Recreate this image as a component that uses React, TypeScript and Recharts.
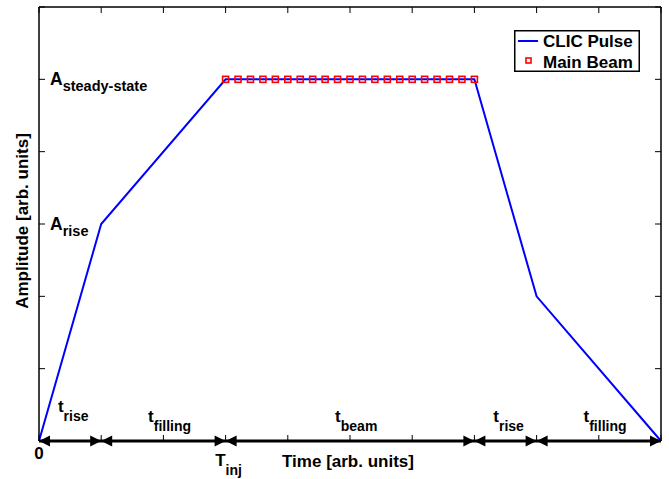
import React from 'react'
import {
  LineChart,
  Line,
  XAxis,
  YAxis,
  CartesianGrid,
  ReferenceDot,
  Legend,
} from 'recharts'

// CLIC pulse shape (time, amplitude)
const pulseTime = [0, 1, 3, 7, 8, 10]
const pulseAmp = [0, 3, 5, 5, 2, 0]

// main beam markers along the flat top
const beamTime = [3, 3.2, 3.4, 3.6, 3.8, 4, 4.2, 4.4, 4.6, 4.8, 5, 5.2, 5.4, 5.6, 5.8, 6, 6.2, 6.4, 6.6, 6.8, 7]
const beamAmp = [5, 5, 5, 5, 5, 5, 5, 5, 5, 5, 5, 5, 5, 5, 5, 5, 5, 5, 5, 5, 5]

const xTicks = [0, 1, 2, 3, 4, 5, 6, 7, 8, 9, 10]
const yTicks = [0, 1, 2, 3, 4, 5, 6]
const xTickLabels: Record<number, [string, string]> = { 0: ['0', ''], 3: ['T', 'inj'] }
const yTickLabels: Record<number, [string, string]> = { 3: ['A', 'rise'], 5: ['A', 'steady-state'] }

// timing segments drawn as arrows on the time axis
const segBounds = [0, 1, 3, 7, 8, 10]
const segNames = ['rise', 'filling', 'beam', 'rise', 'filling']
const segLabelX = [0.55, 2.1, 5.1, 7.55, 9.1]
const segLabelY = [0.4, 0.26, 0.26, 0.26, 0.26]

const pulseData = pulseTime.map((t, i) => ({ t, a: pulseAmp[i] }))
const beamData = beamTime.map((t, i) => ({ t, a: beamAmp[i] }))

const xMax = xTicks[xTicks.length - 1]
const yMax = yTicks[yTicks.length - 1]

const FONT = '"Liberation Sans", Arial, Helvetica, sans-serif'

const BottomTick = (props: any) => {
  const { x, y, payload } = props
  const lab = xTickLabels[payload.value]
  if (!lab) return null
  const base = y + 26
  if (!lab[1]) {
    return (
      <text x={x} y={base} textAnchor="middle" fontFamily={FONT} fontWeight="bold" fontSize={17} fill="#000">
        {lab[0]}
      </text>
    )
  }
  return (
    <text x={x + 3} y={base + 7} textAnchor="middle" fontFamily={FONT} fontWeight="bold" fontSize={17} fill="#000">
      {lab[0]}
      <tspan fontSize={14} dy={9}>{lab[1]}</tspan>
    </text>
  )
}

const LeftTick = (props: any) => {
  const { x, y, payload } = props
  const lab = yTickLabels[payload.value]
  if (!lab) return null
  return (
    <text x={x + 3} y={y + 6} textAnchor="start" fontFamily={FONT} fontWeight="bold" fontSize={17.5} fill="#000">
      {lab[0]}
      <tspan fontSize={14.5} dy={6}>{lab[1]}</tspan>
    </text>
  )
}

// grid lines cut down to short inward ticks on the top and right box edges
const topTick = (p: any) => {
  const top = Math.min(p.y1, p.y2)
  return <line key={p.key} x1={p.x1} y1={top} x2={p.x1} y2={top + 6} stroke="#000" strokeWidth={1} />
}
const rightTick = (p: any) => {
  const right = Math.max(p.x1, p.x2)
  return <line key={p.key} x1={right - 6} y1={p.y1} x2={right} y2={p.y1} stroke="#000" strokeWidth={1} />
}

const arrowShape = (i: number) => (props: any) => {
  const { cx, cy } = props
  const L = 11
  const H = 5.5
  return (
    <g>
      {i > 0 && <polygon points={`${cx - L},${cy - H} ${cx},${cy} ${cx - L},${cy + H}`} fill="#000" />}
      {i < segBounds.length - 1 && (
        <polygon points={`${cx + L},${cy - H} ${cx},${cy} ${cx + L},${cy + H}`} fill="#000" />
      )}
    </g>
  )
}

const segLabelShape = (name: string) => (props: any) => {
  const { cx, cy } = props
  return (
    <text x={cx} y={cy} textAnchor="middle" fontFamily={FONT} fontWeight="bold" fontSize={17} fill="#000">
      t<tspan fontSize={14} dy={9}>{name}</tspan>
    </text>
  )
}

const BeamDot = (props: any) => {
  const { cx, cy } = props
  return <rect x={cx - 3} y={cy - 3} width={6} height={6} fill="none" stroke="#ff0000" strokeWidth={1.6} />
}

const LegendBox = () => (
  <svg width={126} height={42} style={{ display: 'block' }}>
    <rect x={0.75} y={0.75} width={124.5} height={40.5} fill="#fff" stroke="#000" strokeWidth={1.5} />
    <line x1={4} y1={11} x2={24} y2={11} stroke="#0000ff" strokeWidth={2} />
    <text x={29} y={16.5} fontFamily={FONT} fontWeight="bold" fontSize={17} fill="#000">CLIC Pulse</text>
    <rect x={12} y={28} width={5} height={5} fill="none" stroke="#ff0000" strokeWidth={1.6} />
    <text x={29} y={37.5} fontFamily={FONT} fontWeight="bold" fontSize={17} fill="#000">Main Beam</text>
  </svg>
)

export default function App() {
  return (
    <div style={{ position: 'absolute', left: 0, top: 0, width: 669, height: 479, background: '#fff' }}>
      <LineChart width={669} height={479} margin={{ top: 7, right: 8, bottom: 38, left: 39 }}>
        <CartesianGrid
          xAxisId="b"
          yAxisId="l"
          horizontal={rightTick}
          vertical={topTick}
          stroke="#000"
          fill="none"
        />
        <XAxis
          xAxisId="b"
          dataKey="t"
          type="number"
          domain={[0, xMax]}
          ticks={xTicks}
          orientation="bottom"
          height={1}
          mirror
          tickSize={6}
          axisLine={{ stroke: '#000', strokeWidth: 3 }}
          tickLine={{ stroke: '#000', strokeWidth: 1 }}
          tick={<BottomTick />}
          interval={0}
          label={{
            content: (p: any) => {
              const vb = p.viewBox || {}
              return (
                <text
                  x={vb.x + vb.width / 2 - 2}
                  y={vb.y + vb.height + 26}
                  textAnchor="middle"
                  fontFamily={FONT}
                  fontWeight="bold"
                  fontSize={17}
                  fill="#000"
                >
                  Time [arb. units]
                </text>
              )
            },
          }}
        />
        <XAxis
          xAxisId="t"
          dataKey="t"
          type="number"
          domain={[0, xMax]}
          orientation="top"
          height={1}
          mirror
          tick={false}
          tickLine={false}
          axisLine={{ stroke: '#000', strokeWidth: 1.5 }}
        />
        <YAxis
          yAxisId="l"
          type="number"
          domain={[0, yMax]}
          ticks={yTicks}
          width={1}
          mirror
          tickSize={6}
          axisLine={{ stroke: '#000', strokeWidth: 1.5 }}
          tickLine={{ stroke: '#000', strokeWidth: 1 }}
          tick={<LeftTick />}
          interval={0}
          label={{
            content: (p: any) => {
              const vb = p.viewBox || {}
              const cx = vb.x - 11
              const cy = vb.y + vb.height / 2 - 3
              return (
                <text
                  x={cx}
                  y={cy}
                  transform={`rotate(-90 ${cx} ${cy})`}
                  textAnchor="middle"
                  fontFamily={FONT}
                  fontWeight="bold"
                  fontSize={17}
                  fill="#000"
                >
                  Amplitude [arb. units]
                </text>
              )
            },
          }}
        />
        <YAxis
          yAxisId="r"
          type="number"
          orientation="right"
          domain={[0, yMax]}
          width={1}
          mirror
          tick={false}
          tickLine={false}
          axisLine={{ stroke: '#000', strokeWidth: 1.5 }}
        />
        <Line
          xAxisId="t"
          yAxisId="r"
          data={pulseData}
          dataKey="a"
          stroke="none"
          dot={false}
          legendType="none"
          isAnimationActive={false}
        />
        <Line
          xAxisId="b"
          yAxisId="l"
          data={pulseData}
          dataKey="a"
          name="CLIC Pulse"
          stroke="#0000ff"
          strokeWidth={2}
          dot={false}
          isAnimationActive={false}
        />
        <Line
          xAxisId="b"
          yAxisId="l"
          data={beamData}
          dataKey="a"
          name="Main Beam"
          stroke="none"
          dot={<BeamDot />}
          isAnimationActive={false}
        />
        {segBounds.map((b, i) => (
          <ReferenceDot
            key={`arr-${i}`}
            xAxisId="b"
            yAxisId="l"
            x={b}
            y={0}
            r={0}
            ifOverflow="visible"
            shape={arrowShape(i)}
          />
        ))}
        {segNames.map((n, i) => (
          <ReferenceDot
            key={`lab-${i}`}
            xAxisId="b"
            yAxisId="l"
            x={segLabelX[i]}
            y={segLabelY[i]}
            r={0}
            ifOverflow="visible"
            shape={segLabelShape(n)}
          />
        ))}
        <Legend
          layout="horizontal"
          verticalAlign="middle"
          align="center"
          content={() => <LegendBox />}
          wrapperStyle={{ position: 'absolute', left: 514, top: 30, width: 126, height: 42 }}
        />
      </LineChart>
    </div>
  )
}
